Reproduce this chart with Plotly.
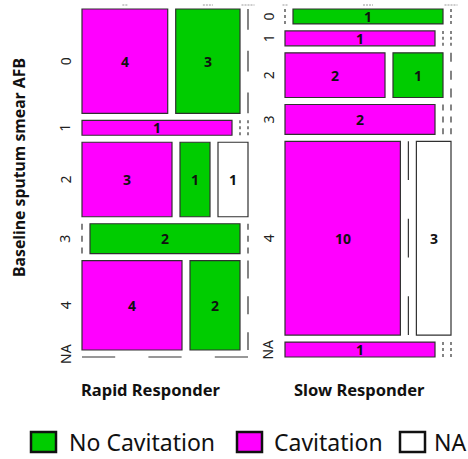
import plotly.graph_objects as go

# ---- data ----
groups = ["Rapid Responder", "Slow Responder"]
smear_levels = ["0", "1", "2", "3", "4", "NA"]
cav_levels = ["Cavitation", "No Cavitation", "NA"]
rapid_cav = [4, 1, 3, 0, 4, 0]
rapid_nocav = [3, 0, 1, 2, 2, 0]
rapid_na = [0, 0, 1, 0, 0, 0]
slow_cav = [0, 1, 2, 2, 10, 1]
slow_nocav = [1, 0, 1, 0, 0, 0]
slow_na = [0, 0, 0, 0, 3, 0]
legend_labels = ["No Cavitation", "Cavitation", "NA"]
y_title = "Baseline sputum smear AFB"

# ---- style / layout ----
W, H = 468, 459
colors = {"Cavitation": "#FF00FF", "No Cavitation": "#00CC00", "NA": "#FFFFFF"}
FONT = "Noto Sans"
PANEL_X0 = [82, 285]
TITLE_DX = [-15, -9]
CONTENT_W = 150
HGAP = 8
Y0 = 9
TOTAL_H = 348
VGAP = 7
EDGE = "#303030"

data = {
    "Rapid Responder": [rapid_cav, rapid_nocav, rapid_na],
    "Slow Responder": [slow_cav, slow_nocav, slow_na],
}

shapes = []
annotations = []


def dashed(x0, y0, x1, y1):
    L = max(abs(x1 - x0), abs(y1 - y0))
    d = round(L / 5, 2)
    shapes.append(dict(type="line", xref="x", yref="y", x0=x0, y0=y0, x1=x1, y1=y1,
                       line=dict(color="#333333", width=1.2, dash=f"{d}px,{d}px")))


for gi, g in enumerate(groups):
    cols = data[g]
    x0 = PANEL_X0[gi]
    nrows = len(smear_levels)
    row_tot = [sum(cols[j][i] for j in range(3)) for i in range(nrows)]
    unit = (TOTAL_H - (nrows - 1) * VGAP) / sum(row_tot)
    y = Y0
    full_w = CONTENT_W + (len(cav_levels) - 1) * HGAP
    for i in range(nrows):
        n = row_tot[i]
        h = n * unit
        if n == 0:
            dashed(x0, y, x0 + full_w, y)
            ylab = y - 3
        else:
            x = x0
            for j, c in enumerate(cav_levels):
                cnt = cols[j][i]
                w = cnt / n * CONTENT_W
                if cnt == 0:
                    dashed(x, y, x, y + h)
                    x += HGAP
                else:
                    shapes.append(dict(type="rect", xref="x", yref="y", x0=x, x1=x + w, y0=y, y1=y + h,
                                       fillcolor=colors[c], line=dict(color=EDGE, width=1.2)))
                    annotations.append(dict(x=x + w / 2, y=y + h / 2, text=f"<b>{cnt}</b>", showarrow=False,
                                            xref="x", yref="y", font=dict(family=FONT, size=14, color="#111")))
                    x += w + HGAP
            ylab = y + h / 2
        annotations.append(dict(x=x0 - 17, y=ylab, text=smear_levels[i], textangle=-90, showarrow=False,
                                xref="x", yref="y", font=dict(family=FONT, size=14, color="#222")))
        y += h + VGAP
    # clipped column labels at the very top (only bottom pixels visible)
    x = x0
    n0 = row_tot[0]
    frag = [5, 10, 13]
    for j, c in enumerate(cav_levels):
        w = cols[j][0] / n0 * CONTENT_W
        cx = x + w / 2
        shapes.append(dict(type="line", xref="x", yref="y", x0=cx - frag[j] / 2, x1=cx + frag[j] / 2, y0=5, y1=5,
                           line=dict(color="#999999", width=1, dash="2px,1px")))
        x += w + HGAP
    annotations.append(dict(x=x0 + full_w / 2 + TITLE_DX[gi], y=389, text=f"<b>{g}</b>", showarrow=False,
                            xref="x", yref="y", font=dict(family=FONT, size=16.5, color="#111")))

annotations.append(dict(x=19, y=168, text=f"<b>{y_title}</b>", textangle=-90, showarrow=False,
                        xref="x", yref="y", font=dict(family=FONT, size=15.8, color="#111")))

# legend
leg_colors = [colors["No Cavitation"], colors["Cavitation"], colors["NA"]]
leg_x = [31, 237, 400]
leg_pad = [11, 10, 7]
for lx, lab, col, pad in zip(leg_x, legend_labels, leg_colors, leg_pad):
    shapes.append(dict(type="rect", xref="x", yref="y", x0=lx, x1=lx + 25, y0=432, y1=452,
                       fillcolor=col, line=dict(color="#111", width=2.5)))
    annotations.append(dict(x=lx + 25 + pad, y=442, text=lab, showarrow=False, xanchor="left",
                            xref="x", yref="y", font=dict(family=FONT, size=23, color="#111")))

fig = go.Figure()
fig.update_layout(
    width=W, height=H, margin=dict(l=0, r=0, t=0, b=0),
    paper_bgcolor="white", plot_bgcolor="white",
    xaxis=dict(range=[0, W], visible=False, fixedrange=True),
    yaxis=dict(range=[H, 0], visible=False, fixedrange=True),
    shapes=shapes, annotations=annotations, showlegend=False,
)
fig.write_html("out.html", config={"displayModeBar": False},
               post_script="document.body.style.margin='0px';document.body.style.overflow='hidden';")
